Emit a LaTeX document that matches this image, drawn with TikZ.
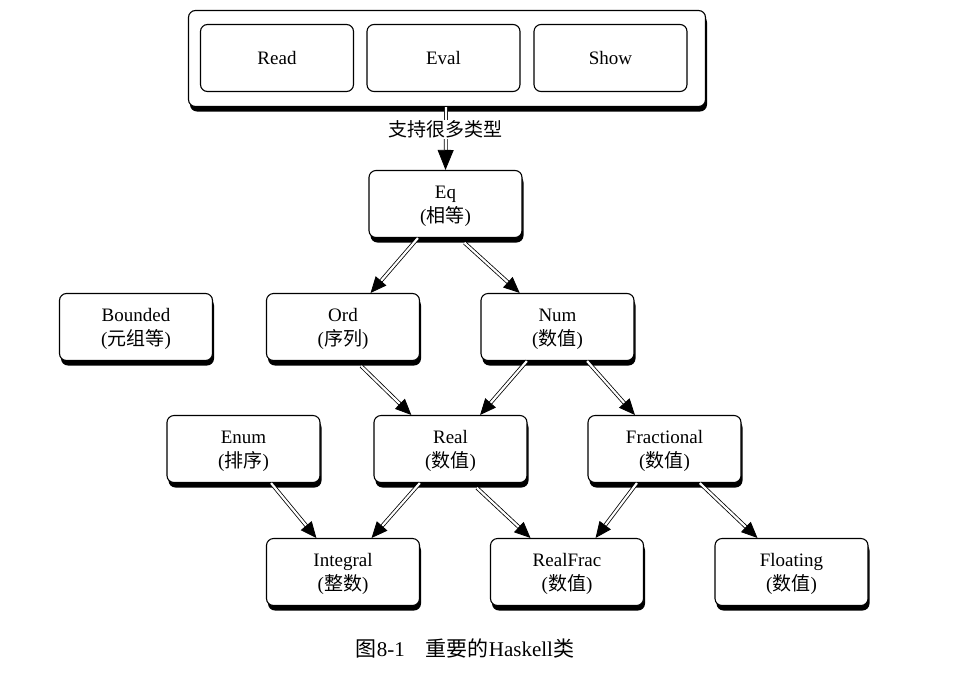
\documentclass[tikz,border=0pt]{standalone}
\usepackage{fontspec}
\setmainfont{Liberation Serif}
\newfontfamily\cjk{Noto Sans CJK SC}
\usepackage{tikz}
\usetikzlibrary{arrows.meta,shadows}

\begin{document}
\begin{tikzpicture}[
                x=1pt,y=-1pt,
                font=\fontsize{19}{24}\selectfont,
                plainbox/.style={draw,line width=1.1pt,rounded corners=7pt,fill=white,
                    minimum width=153pt,minimum height=67pt,align=center,inner sep=0pt},
                classbox/.style={plainbox,text depth=0pt,
                    drop shadow={shadow xshift=1.5pt,shadow yshift=-5pt,fill=black,opacity=1}},
                inherit/.style={double,double distance=2.2pt,line width=0.8pt,
                    -{Triangle[length=16pt,width=14pt]}}
            ]
                \useasboundingbox (0,0) rectangle (968,678);
                % top group
                \node (group) [classbox,minimum width=517pt,minimum height=96pt] at (447,58.5) {};
                \node (read)  [plainbox] at (277,58)   {Read};
                \node (eval)  [plainbox] at (443.5,58) {Eval};
                \node (show)  [plainbox] at (610.5,58) {Show};
                % classes
                \node (eq)         [classbox] at (445.5,204) {Eq\\({\cjk 相等})};
                \node (bounded)    [classbox] at (136,327)   {Bounded\\({\cjk 元组等})};
                \node (ord)        [classbox] at (343,327)   {Ord\\({\cjk 序列})};
                \node (num)        [classbox] at (557.5,327) {Num\\({\cjk 数值})};
                \node (enum)       [classbox] at (243.5,449) {Enum\\({\cjk 排序})};
                \node (real)       [classbox] at (450.5,449) {Real\\({\cjk 数值})};
                \node (fractional) [classbox] at (664.5,449) {Fractional\\({\cjk 数值})};
                \node (integral)   [classbox] at (343,572)   {Integral\\({\cjk 整数})};
                \node (realfrac)   [classbox] at (567,572)   {RealFrac\\({\cjk 数值})};
                \node (floating)   [classbox] at (791.5,572) {Floating\\({\cjk 数值})};
                % connectors
                \draw [inherit,-{Triangle[length=20pt,width=16pt]}] ([xshift=-1pt]group.south) -- (eq.north)
                    node [pos=0.36,fill=white,inner sep=1pt,font=\fontsize{19}{20}\cjk] {支持很多类型};
                \foreach \a/\b in {eq.231/ord.51,num.228/real.49,num.311/fractional.131,
                                   enum.309/integral.128,real.228/integral.50,
                                   fractional.231/realfrac.50,fractional.316/floating.135}
                    \draw [inherit] (\a) -- (\b);
                \foreach \a/\b in {eq.292/num.138,ord.291/real.139,real.302/realfrac.137}
                    \draw [inherit,shorten <=7pt] (\a) -- (\b);
                % caption
                \node (caption) at (465,648) {\fontsize{21}{22}\selectfont{\cjk 图}8-1\quad{\cjk 重要的}Haskell{\cjk 类}};
            \end{tikzpicture}
\end{document}
